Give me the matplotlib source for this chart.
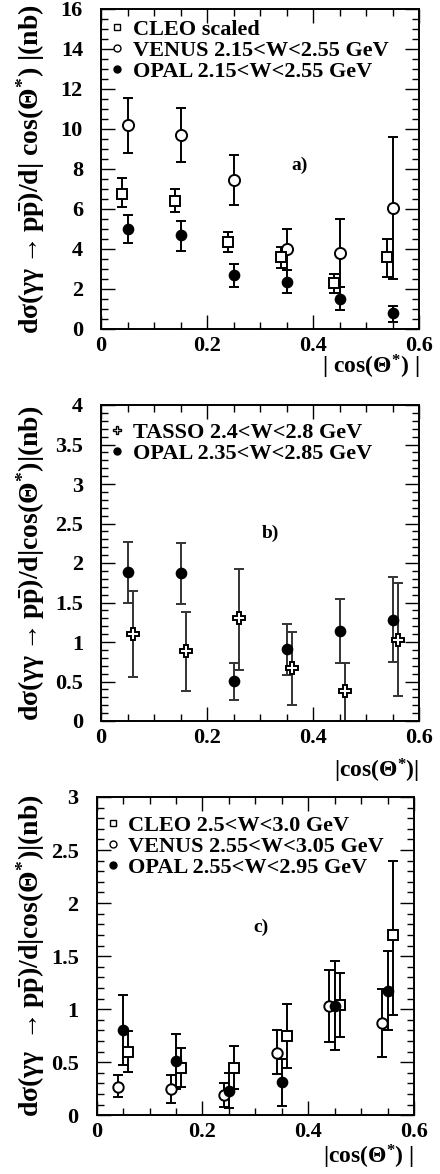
import matplotlib
matplotlib.use("Agg")
import matplotlib.pyplot as plt
from matplotlib.lines import Line2D
from matplotlib.ticker import MultipleLocator
import numpy as np

plt.rcParams['font.family'] = 'Liberation Serif'
plt.rcParams['font.weight'] = 'bold'
plt.rcParams['mathtext.fontset'] = 'custom'
plt.rcParams['mathtext.rm'] = 'Liberation Serif:bold'
plt.rcParams['mathtext.it'] = 'Liberation Serif:italic:bold'
plt.rcParams['mathtext.bf'] = 'Liberation Serif:bold'

# ---- panel a) data
cleo_a_x = [0.04, 0.14, 0.24, 0.34, 0.44, 0.54]
cleo_a_y = [6.75, 6.4, 4.35, 3.6, 2.3, 3.6]
cleo_a_lo = [6.1, 5.85, 3.85, 3.05, 1.8, 2.6]
cleo_a_hi = [7.55, 7.0, 4.85, 4.1, 2.75, 4.5]

venus_a_x = [0.05, 0.15, 0.25, 0.35, 0.45, 0.55]
venus_a_y = [10.2, 9.7, 7.45, 4.0, 3.8, 6.05]
venus_a_lo = [8.8, 8.35, 6.2, 2.95, 2.1, 2.5]
venus_a_hi = [11.55, 11.05, 8.7, 5.0, 5.5, 9.6]

opal_a_x = [0.05, 0.15, 0.25, 0.35, 0.45, 0.55]
opal_a_y = [5.0, 4.7, 2.7, 2.35, 1.5, 0.8]
opal_a_lo = [4.3, 3.9, 2.1, 1.8, 0.95, 0.35]
opal_a_hi = [5.7, 5.4, 3.25, 2.95, 2.1, 1.15]

# ---- panel b) data
opal_b_x = [0.05, 0.15, 0.25, 0.35, 0.45, 0.55]
opal_b_y = [1.88, 1.87, 0.51, 0.91, 1.14, 1.28]
opal_b_lo = [1.49, 1.48, 0.27, 0.58, 0.74, 0.75]
opal_b_hi = [2.26, 2.25, 0.73, 1.23, 1.54, 1.82]

tasso_b_x = [0.06, 0.16, 0.26, 0.36, 0.46, 0.56]
tasso_b_y = [1.10, 0.88, 1.30, 0.67, 0.38, 1.03]
tasso_b_lo = [0.56, 0.38, 0.65, 0.20, -0.05, 0.32]
tasso_b_hi = [1.64, 1.38, 1.93, 1.13, 0.74, 1.75]

# ---- panel c) data
cleo_c_x = [0.06, 0.16, 0.26, 0.36, 0.46, 0.56]
cleo_c_y = [0.60, 0.45, 0.45, 0.75, 1.04, 1.70]
cleo_c_lo = [0.41, 0.27, 0.25, 0.45, 0.74, 0.95]
cleo_c_hi = [0.79, 0.63, 0.65, 1.05, 1.34, 2.40]

venus_c_x = [0.04, 0.14, 0.24, 0.34, 0.44, 0.54]
venus_c_y = [0.27, 0.25, 0.19, 0.59, 1.03, 0.87]
venus_c_lo = [0.17, 0.12, 0.08, 0.39, 0.69, 0.55]
venus_c_hi = [0.38, 0.38, 0.30, 0.80, 1.37, 1.19]

opal_c_x = [0.05, 0.15, 0.25, 0.35, 0.45, 0.55]
opal_c_y = [0.80, 0.51, 0.23, 0.31, 1.03, 1.17]
opal_c_lo = [0.47, 0.25, 0.07, 0.09, 0.62, 0.80]
opal_c_hi = [1.13, 0.77, 0.40, 0.53, 1.45, 1.55]


def errs(y, lo, hi):
    y = np.array(y)
    return [y - np.array(lo), np.array(hi) - y]


def draw(ax, x, y, lo, hi, marker, mfc, ms, color='k'):
    ax.errorbar(x, y, yerr=errs(y, lo, hi), fmt='none', ecolor=color,
                elinewidth=1.4, capsize=3.5, capthick=1.4, zorder=2)
    ax.plot(x, y, ls='none', marker=marker, mfc=mfc, mec='k', mew=1.4,
            ms=ms, zorder=3)


def style(ax, ymax, ymaj, ymin):
    ax.set_xlim(0, 0.6)
    ax.set_ylim(0, ymax)
    xt = np.round(np.arange(0, 0.61, 0.2), 2)
    yt = np.round(np.arange(0, ymax + 1e-6, ymaj), 2)
    ax.set_xticks(xt, ['%g' % v for v in xt], fontsize=16, fontweight='bold')
    ax.set_yticks(yt, ['%g' % v for v in yt], fontsize=16, fontweight='bold')
    ax.xaxis.set_minor_locator(MultipleLocator(0.05))
    ax.yaxis.set_minor_locator(MultipleLocator(ymin))
    ax.set_xlim(0, 0.6)
    ax.set_ylim(0, ymax)
    ax.tick_params(which='both', direction='in', top=True, right=True, width=1.0)
    ax.tick_params(which='major', length=10)
    ax.tick_params(which='minor', length=5)
    ax.tick_params(axis='y', pad=13)
    ax.tick_params(axis='x', pad=5)
    for s in ax.spines.values():
        s.set_linewidth(1.4)


def leg(ax, items, x0, y0):
    handles = [Line2D([], [], ls='none', marker=m, mfc=f, mec='k', mew=1.0, ms=s)
               for m, f, s in items[0]]
    ax.legend(handles, items[1], loc='upper left', bbox_to_anchor=(x0, y0),
              frameon=False, prop={'size': 16, 'weight': 'bold'},
              handlelength=0.6, handletextpad=0.4,
              labelspacing=0.02, borderaxespad=0, borderpad=0)


W, H = 440, 1174
fig = plt.figure(figsize=(W / 100, H / 100), dpi=100)

# panel a
ax1 = fig.add_axes([101 / W, 1 - 329 / H, 318 / W, 320 / H])
draw(ax1, venus_a_x, venus_a_y, venus_a_lo, venus_a_hi, 'o', 'white', 8)
draw(ax1, cleo_a_x, cleo_a_y, cleo_a_lo, cleo_a_hi, 's', 'white', 7)
draw(ax1, opal_a_x, opal_a_y, opal_a_lo, opal_a_hi, 'o', 'black', 7)
style(ax1, 16, 2, 0.5)
leg(ax1, ([('s', 'white', 5), ('o', 'white', 5), ('o', 'black', 5)],
          ['CLEO scaled', 'VENUS 2.15<W<2.55 GeV', 'OPAL 2.15<W<2.55 GeV']), 0.03, 0.968)
ax1.text(0.375, 8.2, 'a)', fontsize=14, ha='center', va='center')
ax1.set_ylabel(r'$\mathrm{d\sigma(\gamma\gamma \rightarrow p\bar{p})/d|\ cos(\Theta^{*})\ |(nb)}$', fontsize=20)
ax1.yaxis.set_label_coords(-(101 - 31) / 318, 0.5)
ax1.yaxis.label.set_va('center')
ax1.set_xlabel(r'$\mathrm{|\ cos(\Theta^{*})\ |}$', fontsize=17, loc='right')
ax1.xaxis.set_label_coords(1.0, -(367 - 329) / 320)
ax1.xaxis.label.set_va('center')

# panel b
ax2 = fig.add_axes([101 / W, 1 - 721 / H, 318 / W, 316 / H])
gray = '#333333'
draw(ax2, opal_b_x, opal_b_y, opal_b_lo, opal_b_hi, 'o', 'black', 7, gray)
draw(ax2, tasso_b_x, tasso_b_y, tasso_b_lo, tasso_b_hi, 'P', 'white', 8.5, gray)
style(ax2, 4, 0.5, 0.1)
leg(ax2, ([('P', 'white', 6), ('o', 'black', 5)],
          ['TASSO 2.4<W<2.8 GeV', 'OPAL 2.35<W<2.85 GeV']), 0.03, 0.945)
ax2.text(0.32, 2.38, 'b)', fontsize=14, ha='center', va='center')
ax2.set_ylabel(r'$\mathrm{d\sigma(\gamma\gamma \rightarrow p\bar{p})/d|cos(\Theta^{*})|(nb)}$', fontsize=20)
ax2.yaxis.set_label_coords(-(101 - 31) / 318, 0.5)
ax2.yaxis.label.set_va('center')
ax2.set_xlabel(r'$\mathrm{|cos(\Theta^{*})|}$', fontsize=17, loc='right')
ax2.xaxis.set_label_coords(1.0, -(771 - 721) / 316)
ax2.xaxis.label.set_va('center')

# panel c
ax3 = fig.add_axes([96.7 / W, 1 - 1115.3 / H, 317.3 / W, 318.3 / H])
draw(ax3, cleo_c_x, cleo_c_y, cleo_c_lo, cleo_c_hi, 's', 'white', 7.5)
draw(ax3, venus_c_x, venus_c_y, venus_c_lo, venus_c_hi, 'o', 'white', 7.5)
draw(ax3, opal_c_x, opal_c_y, opal_c_lo, opal_c_hi, 'o', 'black', 7)
style(ax3, 3, 0.5, 0.1)
leg(ax3, ([('s', 'white', 5), ('o', 'white', 5), ('o', 'black', 5)],
          ['CLEO 2.5<W<3.0 GeV', 'VENUS 2.55<W<3.05 GeV', 'OPAL 2.55<W<2.95 GeV']), 0.03, 0.943)
ax3.text(0.31, 1.77, 'c)', fontsize=14, ha='center', va='center')
ax3.set_ylabel(r'$\mathrm{d\sigma(\gamma\gamma\ \rightarrow p\bar{p})/d|cos(\Theta^{*})|(nb)}$', fontsize=20)
ax3.yaxis.set_label_coords(-(96.7 - 31) / 317.3, 0.5)
ax3.yaxis.label.set_va('center')
ax3.set_xlabel(r'$\mathrm{|cos(\Theta^{*})\ |}$', fontsize=17, loc='right')
ax3.xaxis.set_label_coords(1.0, -(1157 - 1115) / 318.3)
ax3.xaxis.label.set_va('center')

fig.savefig('out.png', dpi=100)
